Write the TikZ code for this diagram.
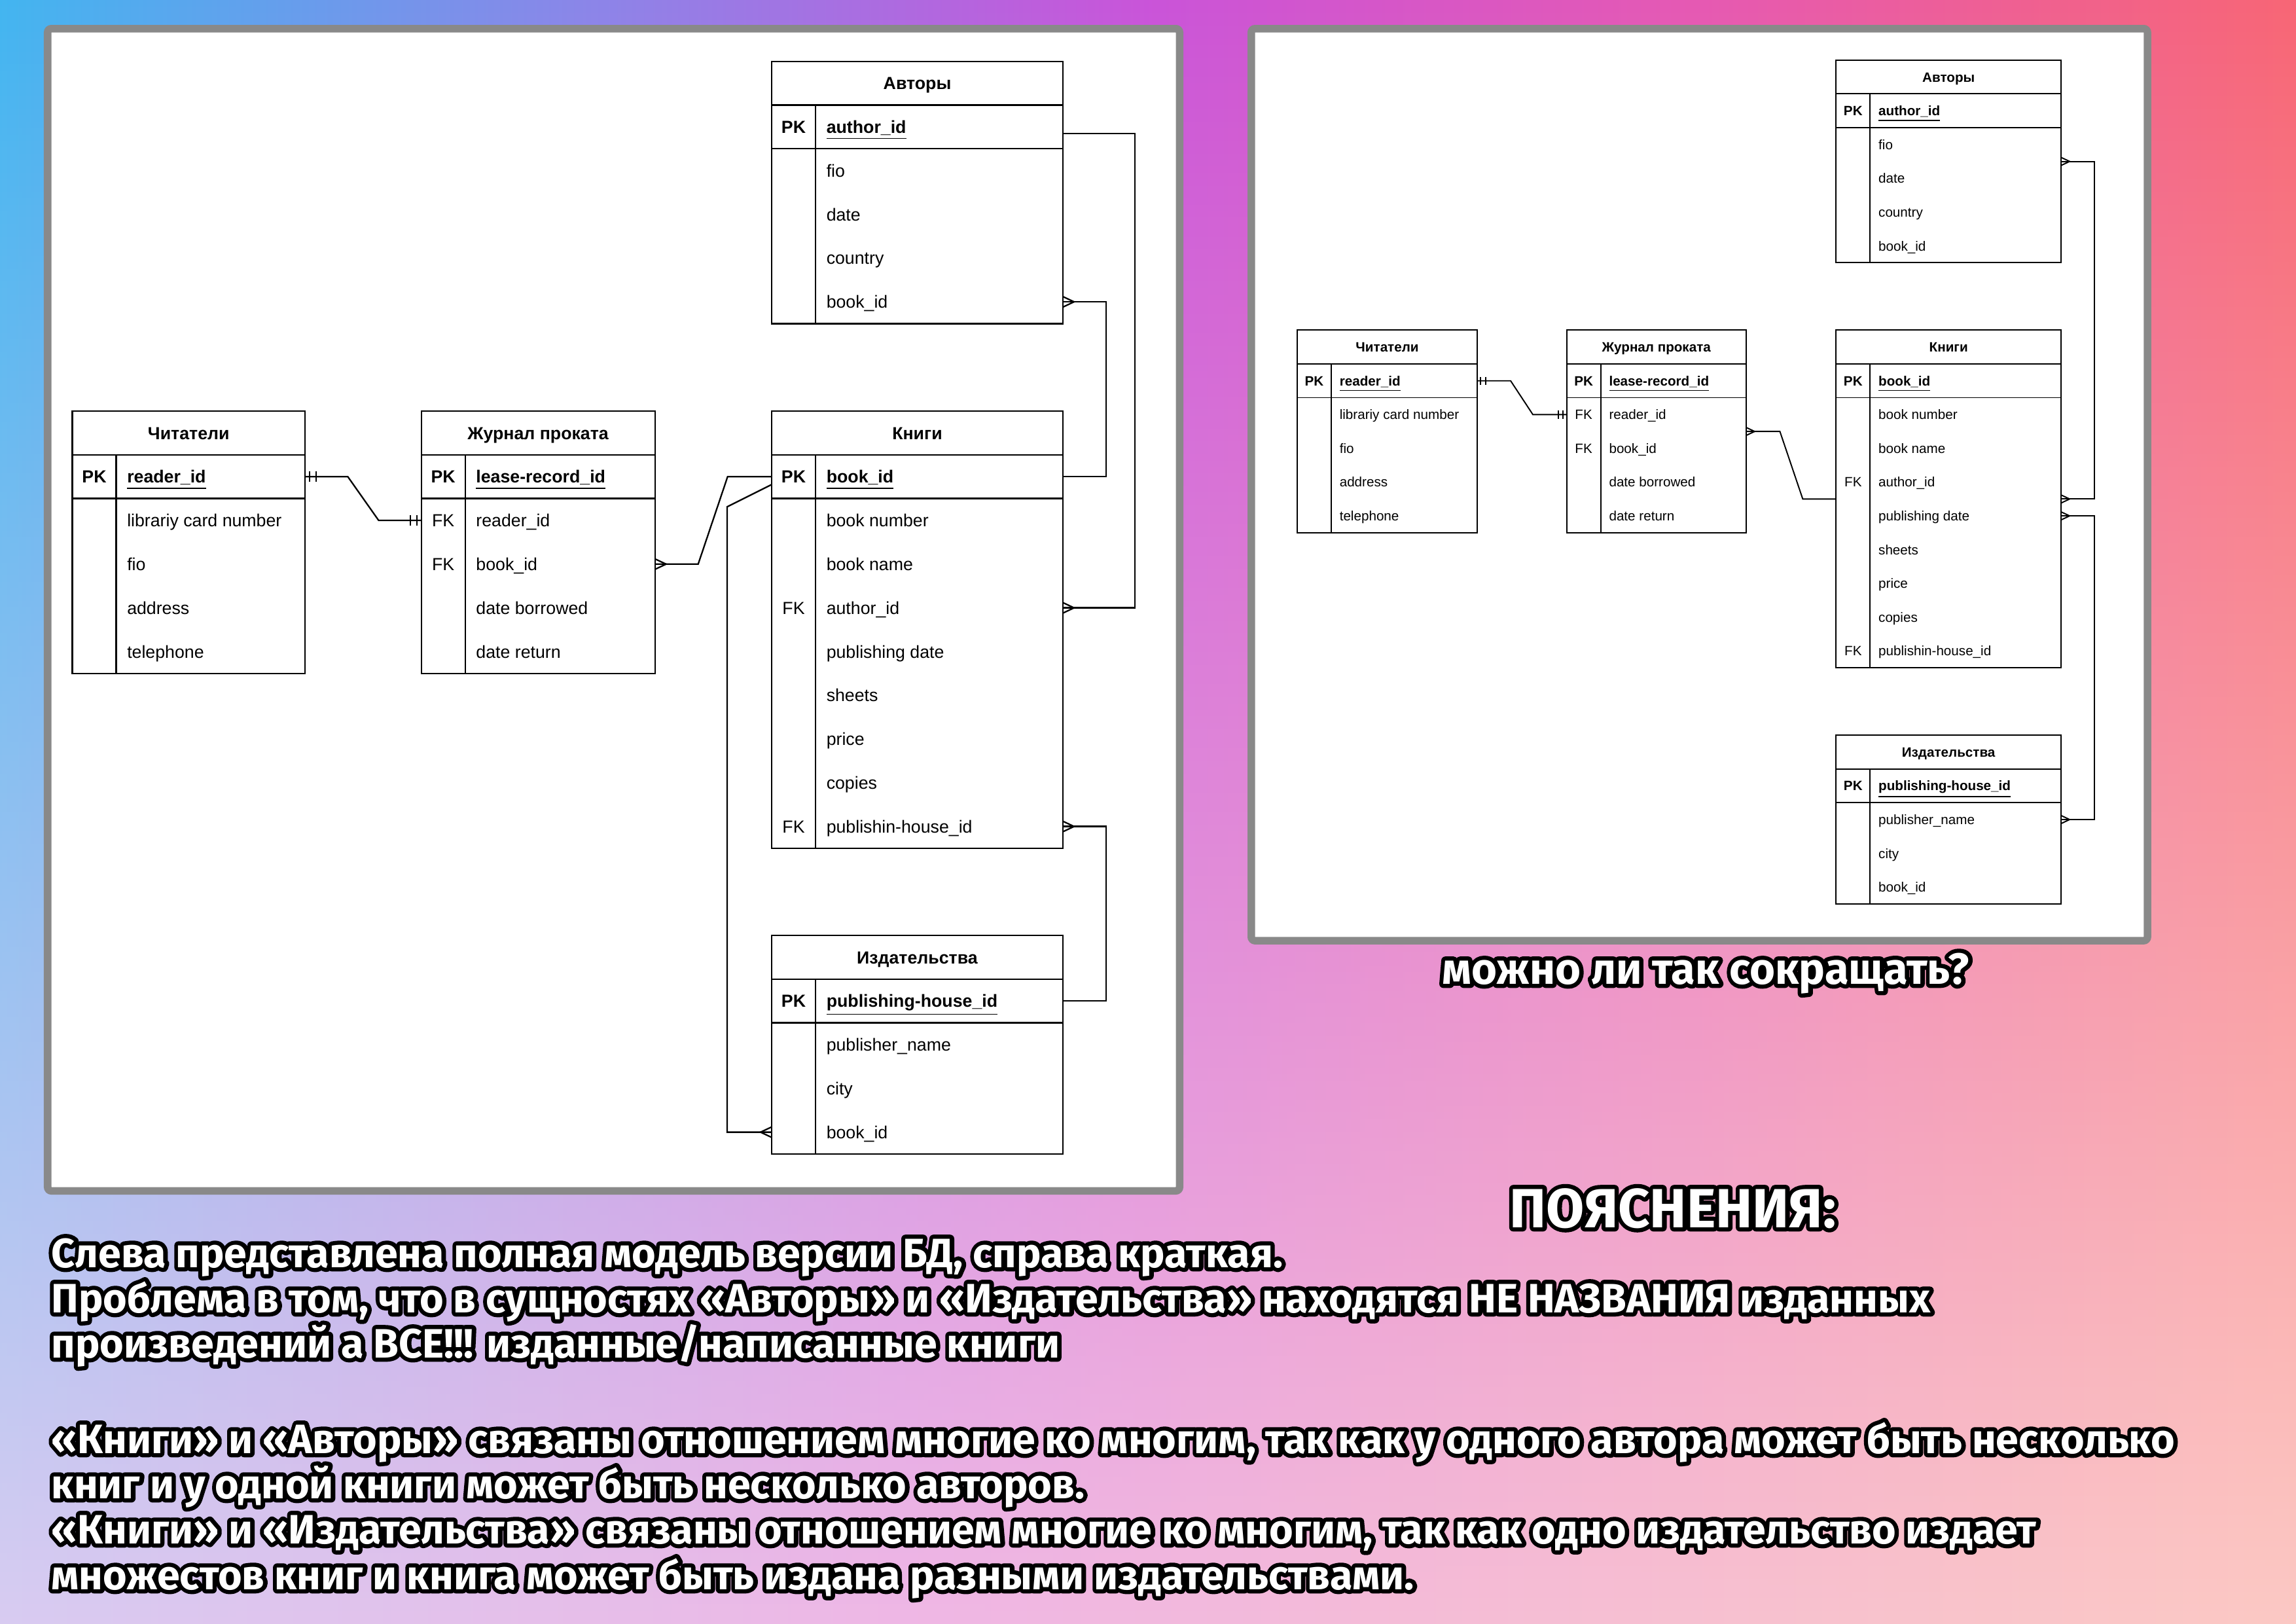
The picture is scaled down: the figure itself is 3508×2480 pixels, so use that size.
\documentclass[tikz,border=0pt]{standalone}
\usepackage{fontspec}
\setmainfont{Liberation Sans}
\newfontfamily\olfont{Fira Sans}
\usetikzlibrary{calc,fadings}
\definecolor{panelgrey}{HTML}{898989}
\pgfdeclarehorizontalshading{bgtop}{100bp}{rgb(0bp)=(0.26,0.71,0.94); rgb(25bp)=(0.26,0.71,0.94); rgb(38bp)=(0.55,0.52,0.91); rgb(50bp)=(0.79,0.33,0.85); rgb(62bp)=(0.90,0.35,0.70); rgb(75bp)=(0.97,0.40,0.46); rgb(100bp)=(0.97,0.40,0.46)}
\pgfdeclarehorizontalshading{bgbot}{100bp}{rgb(0bp)=(0.85,0.80,0.95); rgb(25bp)=(0.85,0.80,0.95); rgb(45bp)=(0.94,0.72,0.90); rgb(55bp)=(0.96,0.74,0.85); rgb(75bp)=(0.99,0.79,0.77); rgb(100bp)=(0.99,0.79,0.77)}
\tikzfading[name=fadeup, top color=transparent!100, middle color=transparent!65, bottom color=transparent!0]

\newcommand\olt[1]{\rlap{\special{pdf:literal direct 0 g 0 G 1 j 3.6 w 2 Tr}#1\special{pdf:literal direct 0 Tr 0.4 w 0 j}}\textcolor{white}{#1}}
\newcommand\pkf[1]{\textbf{\underline{#1}}}
\newcommand\pkk{\textbf{PK}}

% #1 name, #2 x, #3 y, #4 width, #5 row height, #6 key column width, #7 number of rows, #8 header, #9 rows
\newcommand\ertab[9]{%
  \pgfmathsetmacro\ertH{(#7+1)*#5}%
  \node[tabframe, minimum width=#4*0.01cm, minimum height=\ertH*0.01cm, anchor=north west] (#1) at (#2,#3) {};
  \node[rowcell, minimum width=#4*0.01cm, minimum height=#5*0.01cm, anchor=north west] (#1-h) at (#2,#3) {};
  \node[celltext, anchor=base] (#1-t) at ($(#1-h.center)+(0,{#5*0.144})$) {\textbf{#8}};
  \foreach \kk/\ff [count=\ii] in {#9}{%
    \node[rowcell, minimum width=#4*0.01cm, minimum height=#5*0.01cm, anchor=north west] (#1-\ii) at (#2,{#3+\ii*#5}) {};
    \node[celltext, anchor=base] (#1-k\ii) at ($(#1-\ii.west)+({#6/2},{#5*0.144})$) {\kk};
    \node[celltext, anchor=base west] (#1-f\ii) at ($(#1-\ii.west)+({#6*1.25},{#5*0.144})$) {\ff};
  }
  \draw (#1-h.south west) -- (#1-h.south east);
  \draw (#1-1.south west) -- (#1-1.south east);
  \draw ($(#1-h.south west)+(#6,0)$) -- ($(#1.south west)+(#6,0)$);
}

\begin{document}
\begin{tikzpicture}[x=0.01cm,y=-0.01cm,
  tabframe/.style={draw=black, fill=white, inner sep=0pt, outer sep=0pt},
  rowcell/.style={inner sep=0pt, outer sep=0pt},
  celltext/.style={inner sep=0pt, outer sep=0pt, text=black},
  panel/.style={draw=panelgrey, fill=white, line width=0.115cm, rounded corners=0.0575cm, inner sep=0pt, outer sep=0pt},
  olbody/.style={font=\olfont\bfseries\fontsize{17.85}{20}\selectfont, inner sep=0pt, anchor=base west},
  olhead/.style={font=\olfont\bfseries\fontsize{24}{28}\selectfont, inner sep=0pt, anchor=base},
  olq/.style={font=\olfont\bfseries\fontsize{19}{22}\selectfont, inner sep=0pt, anchor=base},
  crow/.pic={\draw (0,-8) -- (17,0) -- (0,8);},
  bars/.pic={\draw (7,-8) -- (7,8) (17,-8) -- (17,8);}
]
\useasboundingbox (0,0) rectangle (3508,2480);
\shade[shading=bgtop] (0,0) rectangle (3508,2480);
\shade[shading=bgbot, path fading=fadeup] (0,0) rectangle (3508,2480);

\node[panel, minimum width=17.285cm, minimum height=17.745cm, anchor=north west] (leftpanel) at (72.75,43.75) {};
\node[panel, minimum width=13.685cm, minimum height=13.925cm, anchor=north west] (rightpanel) at (1911.75,43.75) {};

% ---------- full model (left) ----------
\begin{scope}[line width=0.65pt, font=\fontsize{7.6}{9}\selectfont]
\ertab{LA}{1179}{93.7}{445}{66.8}{67}{5}{Авторы}{\pkk/\pkf{author\_id}, /fio, /date, /country, /book\_id}
\ertab{LK}{1179}{628}{445}{66.8}{67}{9}{Книги}{\pkk/\pkf{book\_id}, /book number, /book name, FK/author\_id, /publishing date, /sheets, /price, /copies, FK/publishin-house\_id}
\ertab{LI}{1179}{1429}{445}{66.8}{67}{4}{Издательства}{\pkk/\pkf{publishing-house\_id}, /publisher\_name, /city, /book\_id}
\ertab{LR}{110.5}{628}{355.5}{66.8}{67}{5}{Читатели}{\pkk/\pkf{reader\_id}, /librariy card number, /fio, /address, /telephone}
\ertab{LJ}{643.7}{628}{357}{66.8}{67}{5}{Журнал проката}{\pkk/\pkf{lease-record\_id}, FK/reader\_id, FK/book\_id, /date borrowed, /date return}

\draw (LR-1.east) -- ++(65.4,0) -- ++(47.1,66.8) -- (LJ-2.west);
\pic at (LR-1.east) {bars};
\pic[xscale=-1] at (LJ-2.west) {bars};

\draw (LJ-3.east) -- ++(66,0) -- ++(45,-133.6) -- (LK-1.west);
\pic at (LJ-3.east) {crow};

\coordinate (l3s) at ($(LK-1.west)+(0,12)$);
\draw (l3s) -- ++(-68,34) |- (LI-4.west);
\pic[xscale=-1] at (LI-4.west) {crow};

\coordinate (l4s) at ($(LA-1.east)+(0,10.4)$);
\draw (l4s) -- ++(110,0) |- (LK-4.east);
\pic at (LK-4.east) {crow};

\draw (LA-5.east) -- ++(66,0) |- (LK-1.east);
\pic at (LA-5.east) {crow};

\draw (LK-9.east) -- ++(66,0) |- (LI-1.east);
\pic at (LK-9.east) {crow};
\end{scope}

% ---------- short model (right) ----------
\begin{scope}[line width=0.55pt, font=\fontsize{5.87}{7}\selectfont]
\ertab{RA}{2805.4}{91.8}{343.6}{51.6}{51.8}{5}{Авторы}{\pkk/\pkf{author\_id}, /fio, /date, /country, /book\_id}
\ertab{RK}{2805.4}{504.3}{343.6}{51.6}{51.8}{9}{Книги}{\pkk/\pkf{book\_id}, /book number, /book name, FK/author\_id, /publishing date, /sheets, /price, /copies, FK/publishin-house\_id}
\ertab{RI}{2805.4}{1123}{343.6}{51.6}{51.8}{4}{Издательства}{\pkk/\pkf{publishing-house\_id}, /publisher\_name, /city, /book\_id}
\ertab{RR}{1982}{504.3}{275}{51.6}{51.8}{5}{Читатели}{\pkk/\pkf{reader\_id}, /librariy card number, /fio, /address, /telephone}
\ertab{RJ}{2393.75}{504.3}{274}{51.6}{51.8}{5}{Журнал проката}{\pkk/\pkf{lease-record\_id}, FK/reader\_id, FK/book\_id, /date borrowed, /date return}

\draw (RR-1.east) -- ++(51,0) -- ++(34,51.6) -- (RJ-2.west);
\pic[scale=0.772] at (RR-1.east) {bars};
\pic[xscale=-1, scale=0.772] at (RJ-2.west) {bars};

\draw (RJ.east) -- ++(51.7,0) -- ++(34.9,103.2) -- (RK.west);
\pic[scale=0.772] at (RJ.east) {crow};

\draw (RA.east) -- ++(51,0) |- (RK.east);
\pic[scale=0.772] at (RA.east) {crow};
\pic[scale=0.772] at (RK.east) {crow};

\coordinate (r4s) at ($(RK.east)+(0,25.8)$);
\draw (r4s) -- ++(51,0) |- (RI.east);
\pic[scale=0.772] at (r4s) {crow};
\pic[scale=0.772] at (RI.east) {crow};
\end{scope}

% ---------- texts ----------
\node[olq] (question) at (2606,1503) {\olt{можно ли так сокращать?}};
\node[olhead] (expltitle) at (2556,1875) {\olt{ПОЯСНЕНИЯ:}};
\node[olbody] (e1) at (78,1936) {\olt{Слева представлена полная модель версии БД, справа краткая.}};
\node[olbody] (e2) at (78,2005) {\olt{Проблема в том, что в сущностях «Авторы» и «Издательства» находятся НЕ НАЗВАНИЯ изданных}};
\node[olbody] (e3) at (78,2074) {\olt{произведений а ВСЕ!!! изданные/написанные книги}};
\node[olbody] (e4) at (78,2220) {\olt{«Книги» и «Авторы» связаны отношением многие ко многим, так как у одного автора может быть несколько}};
\node[olbody] (e5) at (78,2289) {\olt{книг и у одной книги может быть несколько авторов.}};
\node[olbody] (e6) at (78,2358) {\olt{«Книги» и «Издательства» связаны отношением многие ко многим, так как одно издательство издает}};
\node[olbody] (e7) at (78,2428) {\olt{множестов книг и книга может быть издана разными издательствами.}};
\end{tikzpicture}
\end{document}
